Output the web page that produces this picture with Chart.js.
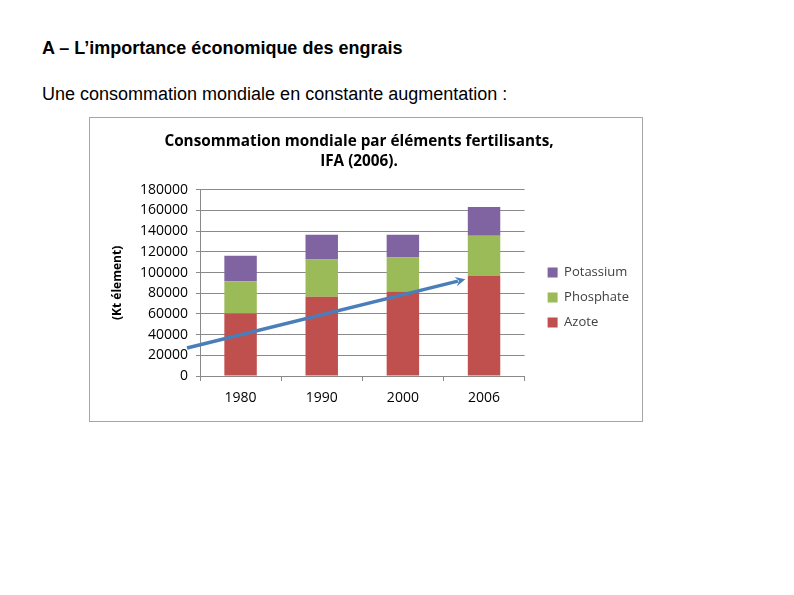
<!DOCTYPE html>
<html>
<head>
<meta charset="utf-8">
<script src="https://cdn.jsdelivr.net/npm/chart.js@4.4.1/dist/chart.umd.min.js"></script>
<style>
    body { margin: 0; background: #fff; width: 794px; height: 595px; position: relative; font-family: "Liberation Sans", Arial, sans-serif; }
    h1 { position: absolute; left: 42px; top: 38px; margin: 0; font-size: 18px; line-height: 20px; font-weight: bold; color: #000; }
    p.sub { position: absolute; left: 42px; top: 84px; margin: 0; font-size: 18px; line-height: 20px; color: #000; }
    #chartBox { position: absolute; left: 89px; top: 117px; width: 552px; height: 303px; border: 1px solid #a6a6a6; }
</style>
</head>
<body>
<h1>A – L’importance économique des engrais</h1>
<p class="sub">Une consommation mondiale en constante augmentation :</p>
<div id="chartBox"><canvas id="engraisChart" width="552" height="303"></canvas></div>

<script>
const years = ['1980', '1990', '2000', '2006'];
const azote = [60300, 76600, 81700, 96700];
const phosphate = [31300, 36100, 32900, 38900];
const potassium = [24600, 23900, 22000, 27800];

// flèche de tendance, en coordonnées de données (index de catégorie, valeur)
const trendStart = [-0.66, 27000];
const trendEnd = [2.77, 93500];

const chartFont = '"Open Sans", sans-serif';

const trendArrow = {
    id: 'trendArrow',
    afterDatasetsDraw(chart) {
        const x = chart.scales.x, y = chart.scales.y, ctx = chart.ctx;
        const x1 = x.getPixelForValue(trendStart[0]), y1 = y.getPixelForValue(trendStart[1]);
        const x2 = x.getPixelForValue(trendEnd[0]), y2 = y.getPixelForValue(trendEnd[1]);
        const ang = Math.atan2(y2 - y1, x2 - x1);
        const head = 11;
        ctx.save();
        ctx.strokeStyle = '#4a7ebb';
        ctx.fillStyle = '#4a7ebb';
        ctx.lineWidth = 3.5;
        ctx.beginPath();
        ctx.moveTo(x1, y1);
        ctx.lineTo(x2 - Math.cos(ang) * head * 0.7, y2 - Math.sin(ang) * head * 0.7);
        ctx.stroke();
        ctx.beginPath();
        ctx.moveTo(x2, y2);
        ctx.lineTo(x2 - head * Math.cos(ang - 0.45), y2 - head * Math.sin(ang - 0.45));
        ctx.lineTo(x2 - head * 0.6 * Math.cos(ang), y2 - head * 0.6 * Math.sin(ang));
        ctx.lineTo(x2 - head * Math.cos(ang + 0.45), y2 - head * Math.sin(ang + 0.45));
        ctx.closePath();
        ctx.fill();
        ctx.restore();
    }
};

// décale un peu la légende, comme dans le graphique Excel d'origine
const legendShift = {
    id: 'legendShift',
    afterLayout(chart) {
        const lg = chart.legend;
        lg.left += 11; lg.right += 11;
        lg.top += 28; lg.bottom += 28;
    }
};

new Chart(document.getElementById('engraisChart'), {
    type: 'bar',
    data: {
        labels: years,
        datasets: [
            { label: 'Azote', data: azote, backgroundColor: '#c0504d' },
            { label: 'Phosphate', data: phosphate, backgroundColor: '#9bbb59' },
            { label: 'Potassium', data: potassium, backgroundColor: '#8064a2' }
        ]
    },
    options: {
        responsive: false,
        animation: false,
        datasets: { bar: { categoryPercentage: 1, barPercentage: 0.4 } },
        layout: { padding: { left: 0, right: 14, top: 0, bottom: 0 } },
        plugins: {
            title: {
                display: true,
                text: ['Consommation mondiale par éléments fertilisants,', 'IFA (2006).'],
                color: '#000',
                font: { family: chartFont, size: 15.3, weight: 'bold', lineHeight: 1.3 },
                padding: { top: 14, bottom: 18 }
            },
            legend: {
                position: 'right',
                reverse: true,
                labels: {
                    boxWidth: 10, boxHeight: 10, padding: 12,
                    color: '#404040',
                    font: { family: chartFont, size: 13 }
                }
            },
            tooltip: { enabled: false }
        },
        scales: {
            x: {
                stacked: true,
                grid: { display: true, drawOnChartArea: false, offset: true, tickLength: 5, color: '#8a8a8a' },
                border: { color: '#8a8a8a' },
                ticks: { color: '#000', padding: 9, font: { family: chartFont, size: 14 } },
                afterFit(scale) { scale.height = 45; }
            },
            y: {
                stacked: true,
                min: 0, max: 180000,
                grid: { color: '#8a8a8a', tickLength: 4 },
                border: { color: '#8a8a8a' },
                ticks: {
                    stepSize: 20000, color: '#000', padding: 8,
                    font: { family: chartFont, size: 14 },
                    callback: v => String(v)
                },
                title: {
                    display: true, text: '(Kt élement)', color: '#000',
                    font: { family: chartFont, size: 12, weight: 'bold' },
                    padding: { top: 20, bottom: 0 }
                },
                afterFit(scale) { scale.width = 110; }
            }
        }
    },
    plugins: [trendArrow, legendShift]
});
</script>
</body>
</html>
